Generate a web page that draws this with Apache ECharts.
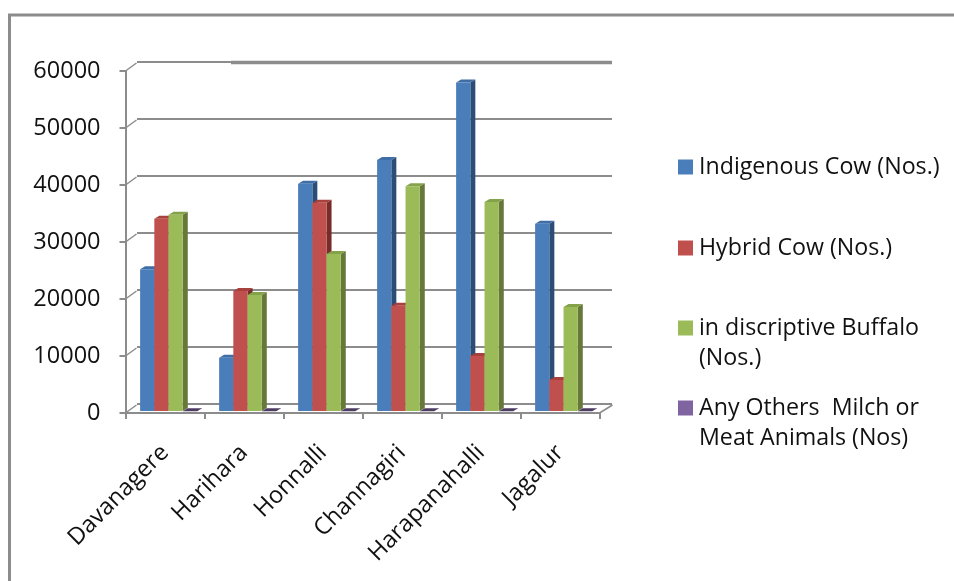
<!DOCTYPE html>
<html><head><meta charset="utf-8">
<style>html,body{margin:0;padding:0;background:#fff}#c{width:954px;height:581px}</style>
<script src="https://cdn.jsdelivr.net/npm/echarts@6/dist/echarts.min.js"></script>
</head><body><div id="c"></div>
<script>
const categories = ['Davanagere','Harihara','Honnalli','Channagiri','Harapanahalli','Jagalur'];
const indigenousCow = [25200,9700,40200,44400,58000,33200];
const hybridCow = [34100,21400,36900,18800,10000,5800];
const buffalo = [34800,20700,27900,39800,37000,18600];
const otherAnimals = [300,300,300,300,300,300];
const seriesNames = ['Indigenous Cow (Nos.)','Hybrid Cow (Nos.)','in discriptive Buffalo\n(Nos.)','Any Others  Milch or\nMeat Animals (Nos)'];
const yTicks = [0,10000,20000,30000,40000,50000,60000];
const colors = ['#4a7ebb','#c0504d','#9bbb59','#8064a2'];
const sideColors = ['#2c4d75','#772c2a','#66783a','#4d3b62'];
const topColors = ['#3f6da6','#a8403d','#84a24a','#4d3b62'];
const FONT = '"Open Sans"';
const GRAY = '#8c8c8c';
const DX = 11, DY = -8;

function barSeries(idx, values){
  return {
    name: seriesNames[idx], type:'custom', xAxisIndex:0, yAxisIndex:0, z:5+idx,
    itemStyle:{color:colors[idx]},
    encode:{x:0,y:1},
    data: values.map((v,i)=>[i,v]),
    renderItem(params, api){
      const c = api.value(0), v = api.value(1);
      const band = api.size([1,0])[0];
      const base = api.coord([c,0]), top = api.coord([c,v]);
      const w = band*0.18, dx = 5, dy = -3;
      const x0 = base[0]-band/2 + band*0.185 + idx*w;
      const x1 = x0+w, yT = top[1], yB = base[1]-2;
      return {type:'group', children:[
        {type:'polygon', shape:{points:[[x1,yT],[x1+dx,yT+dy],[x1+dx,yB+dy],[x1,yB]]}, style:{fill:sideColors[idx]}},
        {type:'polygon', shape:{points:[[x0,yT],[x0+dx,yT+dy],[x1+dx,yT+dy],[x1,yT]]}, style:{fill:topColors[idx]}},
        {type:'rect', shape:{x:x0,y:yT,width:w,height:Math.max(yB-yT,0)}, style:{fill:colors[idx]}}
      ]};
    }
  };
}
const wallLinks = {
  type:'custom', xAxisIndex:0, yAxisIndex:0, z:1, silent:true,
  data: yTicks.map(t=>[0,t]), encode:{x:0,y:1},
  renderItem(params, api){
    const band = api.size([1,0])[0];
    const p = api.coord([0,api.value(1)]);
    const x = p[0]-band/2;
    return {type:'line', shape:{x1:x,y1:p[1],x2:x+DX,y2:p[1]+DY}, style:{stroke:GRAY,lineWidth:1.5}};
  }
};
const floorEdge = {
  type:'custom', xAxisIndex:0, yAxisIndex:0, z:1, silent:true,
  data:[[categories.length-1,0]], encode:{x:0,y:1},
  renderItem(params, api){
    const band = api.size([1,0])[0];
    const p = api.coord([api.value(0),0]);
    const x = p[0]+band/2;
    return {type:'line', shape:{x1:x,y1:p[1],x2:x+DX+2,y2:p[1]+DY}, style:{stroke:GRAY,lineWidth:1.5}};
  }
};
// The heavier right-hand part of the top gridline in the reference
const topRule = {
  type:'custom', xAxisIndex:1, yAxisIndex:1, z:2, silent:true,
  data:[[0,60000]], encode:{x:0,y:1},
  renderItem(params, api){
    const band = api.size([1,0])[0];
    const p = api.coord([0,api.value(1)]);
    const x0 = p[0]-band/2;
    return {type:'line', shape:{x1:x0+94,y1:p[1]+0.5,x2:x0+6*band,y2:p[1]+0.5}, style:{stroke:GRAY,lineWidth:3.5}};
  }
};
const legendTops = [152,233,283,363];
const chart = echarts.init(document.getElementById('c'),null,{renderer:'canvas'});
chart.setOption({
  animation:false,
  backgroundColor:'#fff',
  grid:[
    {left:125.5,top:71,width:474,height:342},
    {left:137,top:62,width:475,height:342}
  ],
  xAxis:[
    {type:'category',gridIndex:0,data:categories,
      axisLine:{lineStyle:{color:GRAY,width:2}},
      axisTick:{show:true,length:6,alignWithLabel:false,lineStyle:{color:GRAY,width:2}},
      axisLabel:{rotate:45,margin:36,fontFamily:FONT,fontSize:23.5,color:'#111',interval:0},
      splitLine:{show:false}},
    {type:'category',gridIndex:1,data:categories,show:false}
  ],
  yAxis:[
    {type:'value',gridIndex:0,min:0,max:60000,interval:10000,
      axisLine:{show:true,lineStyle:{color:GRAY,width:2}},
      axisTick:{show:true,length:6,lineStyle:{color:GRAY,width:2}},
      axisLabel:{margin:25,fontFamily:FONT,fontSize:23.5,color:'#111',padding:[3,0,0,0],formatter:(v)=>String(v)},
      splitLine:{show:false}},
    {type:'value',gridIndex:1,min:0,max:60000,interval:10000,
      axisLine:{show:false},axisTick:{show:false},axisLabel:{show:false},
      splitLine:{show:true,lineStyle:{color:GRAY,width:2}}}
  ],
  legend: seriesNames.map((n,i)=>({
    data:[n], left:678, top:legendTops[i], padding:0, orient:'vertical',
    itemWidth:15,itemHeight:15,itemGap:0,icon:'rect',selectedMode:false,
    itemStyle:{color:colors[i]},
    formatter:(name)=>name.includes('\n')?'\n'+name:name,
    textStyle:{fontFamily:FONT,fontSize:23.2,color:'#111',lineHeight:30,padding:[0,0,0,1]}
  })),
  graphic:[{type:'polyline',silent:true,z:100,shape:{points:[[9.5,581],[9.5,15],[954,15]]},style:{fill:'none',stroke:GRAY,lineWidth:3}}],
  series:[
    wallLinks, floorEdge, topRule,
    barSeries(0,indigenousCow),barSeries(1,hybridCow),barSeries(2,buffalo),barSeries(3,otherAnimals)
  ]
});
</script></body></html>
